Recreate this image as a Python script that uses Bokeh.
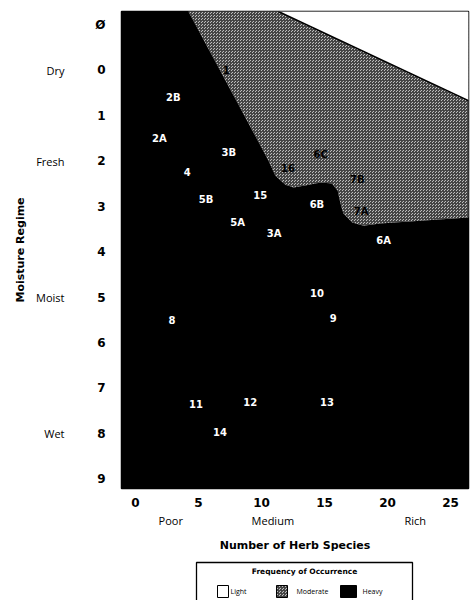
from bokeh.plotting import figure
from bokeh.layouts import column
from bokeh.models import Range1d, LinearAxis, FixedTicker, ColumnDataSource
from bokeh.core.properties import value
from bokeh.embed import file_html
from bokeh.resources import INLINE

# ---- data ---------------------------------------------------------------
# community codes placed by herb species count (x) and moisture regime (y)
site_codes = ["1", "2B", "2A", "3B", "4", "16", "6C", "7B", "5B", "15", "6B",
              "7A", "5A", "3A", "6A", "10", "8", "9", "11", "12", "13", "14"]
site_species = [7.2, 3.0, 1.9, 7.4, 4.1, 12.1, 14.7, 17.6, 5.6, 9.9, 14.4,
                17.9, 8.1, 11.0, 19.7, 14.4, 2.9, 15.7, 4.8, 9.1, 15.2, 6.7]
site_moisture = [0.0, 0.6, 1.5, 1.8, 2.25, 2.15, 1.85, 2.4, 2.85, 2.75, 2.95,
                 3.1, 3.35, 3.6, 3.75, 4.9, 5.5, 5.45, 7.35, 7.3, 7.3, 7.95]

# boundary between heavy and moderate occurrence
moderate_species = [4.2, 10.56, 11.1, 11.9, 12.55, 13.35, 14.7, 15.6, 16.05,
                    16.27, 16.5, 17.2, 18.1, 19.4, 26.43]
moderate_moisture = [-1.29, 1.99, 2.32, 2.52, 2.58, 2.54, 2.47, 2.49, 2.65,
                     2.93, 3.15, 3.35, 3.42, 3.37, 3.24]

# boundary between moderate and light occurrence
light_species = [11.35, 26.43]
light_moisture = [-1.29, 0.67]

x_tick_values = [0, 5, 10, 15, 20, 25]
y_tick_values = [-1, 0, 1, 2, 3, 4, 5, 6, 7, 8, 9]
y_tick_labels = ["Ø", "0", "1", "2", "3", "4", "5", "6", "7", "8", "9"]
richness_values = [2.8, 10.9, 22.2]
richness_labels = ["Poor", "Medium", "Rich"]
regime_values = [0, 2, 5, 8]
regime_labels = ["Dry", "Fresh", "Moist", "Wet"]
occurrence_classes = ["Light", "Moderate", "Heavy"]

X_MIN, X_MAX = -1.11, 26.43
Y_TOP, Y_BOTTOM = -1.29, 9.2

FONT = "DejaVu Sans"
MOD_FILL = "#bdbdbd"
MOD_HATCH = "#444444"

p = figure(width=470, height=558, output_backend="svg", toolbar_location=None,
           x_range=Range1d(X_MIN, X_MAX), y_range=Range1d(Y_BOTTOM, Y_TOP),
           min_border_left=121, min_border_right=2, min_border_top=11,
           min_border_bottom=70, background_fill_color="black",
           border_fill_color="white", outline_line_color="black",
           outline_line_width=1.5)
p.grid.visible = False

# heavy occurrence covers the whole field
p.quad(left=[X_MIN], right=[X_MAX], top=[Y_TOP], bottom=[Y_BOTTOM],
       fill_color="black", line_color=None)

# moderate occurrence: region above/right of its boundary
mx = moderate_species + [X_MAX, X_MAX]
my = moderate_moisture + [Y_TOP, Y_TOP]
p.patch(mx, my, fill_color=MOD_FILL, hatch_pattern="criss_cross",
        hatch_color=MOD_HATCH, hatch_scale=3, hatch_weight=1,
        line_color=None)

# light occurrence: upper right corner
lx = light_species + [X_MAX]
ly = light_moisture + [Y_TOP]
p.patch(lx, ly, fill_color="white", line_color=None)
p.line(light_species, light_moisture, line_color="black", line_width=1.5)


def inside(px, py, xs, ys):
    res = False
    n = len(xs)
    j = n - 1
    for i in range(n):
        if (ys[i] > py) != (ys[j] > py):
            xc = xs[i] + (py - ys[i]) * (xs[j] - xs[i]) / (ys[j] - ys[i])
            if px < xc:
                res = not res
        j = i
    return res


label_colors = ["black" if inside(x, y, mx, my) else "white"
                for x, y in zip(site_species, site_moisture)]
src = ColumnDataSource(dict(x=site_species, y=site_moisture, t=site_codes,
                            c=label_colors))
p.text(x="x", y="y", text="t", text_color="c", source=src,
       text_font=value(FONT), text_font_style="bold", text_font_size="10px",
       text_align="center", text_baseline="middle")

# ---- axes ----------------------------------------------------------------
def plain(ax):
    ax.axis_line_color = None
    ax.major_tick_line_color = None
    ax.minor_tick_line_color = None
    ax.major_tick_out = 0
    ax.major_tick_in = 0
    ax.major_label_text_color = "black"
    ax.axis_label_text_color = "black"


xa = p.xaxis[0]
xa.ticker = FixedTicker(ticks=x_tick_values)
plain(xa)
xa.major_label_text_font = FONT
xa.major_label_text_font_size = "12px"
xa.major_label_text_font_style = "bold"
xa.major_label_standoff = 9

ya = p.yaxis[0]
ya.ticker = FixedTicker(ticks=y_tick_values)
ya.major_label_overrides = {v: s for v, s in zip(y_tick_values, y_tick_labels)}
plain(ya)
ya.major_label_text_font = FONT
ya.major_label_text_font_size = "12px"
ya.major_label_text_font_style = "bold"
ya.major_label_standoff = 16

xa2 = LinearAxis(ticker=FixedTicker(ticks=richness_values),
                 major_label_overrides={v: s for v, s in zip(richness_values, richness_labels)},
                 axis_label="Number of Herb Species")
plain(xa2)
xa2.major_label_text_font = "Open Sans"
xa2.major_label_text_font_size = "11px"
xa2.major_label_standoff = 3
xa2.axis_label_text_font = FONT
xa2.axis_label_text_font_size = "11px"
xa2.axis_label_text_font_style = "bold"
xa2.axis_label_standoff = 8
p.add_layout(xa2, "below")

ya2 = LinearAxis(ticker=FixedTicker(ticks=regime_values),
                 major_label_overrides={v: s for v, s in zip(regime_values, regime_labels)},
                 axis_label="Moisture Regime")
plain(ya2)
ya2.major_label_text_font = "Open Sans"
ya2.major_label_text_font_size = "11px"
ya2.major_label_standoff = 28
ya2.axis_label_text_font = FONT
ya2.axis_label_text_font_size = "11px"
ya2.axis_label_text_font_style = "bold"
ya2.axis_label_standoff = 6
p.add_layout(ya2, "left")

# ---- legend panel (page pixel coordinates over the aligned frame) --------
lg = figure(width=470, height=42, output_backend="svg", toolbar_location=None,
            x_range=Range1d(121, 468), y_range=Range1d(600, 558),
            x_axis_location=None, y_axis_location=None,
            min_border_left=121, min_border_right=2, min_border_top=0,
            min_border_bottom=0,
            outline_line_color=None, background_fill_color="white",
            border_fill_color="white")
lg.grid.visible = False
lg.quad(left=[196], right=[412], top=[562], bottom=[610],
        fill_color=None, line_color="black", line_width=1.3)
lg.text(x=[304], y=[571], text=["Frequency of Occurrence"],
        text_font=value(FONT), text_font_style="bold", text_font_size="7.5px",
        text_align="center", text_baseline="middle")

sw_left = [217, 276, 340]
sw_width = [11, 11, 16]
sw_fill = ["white", MOD_FILL, "black"]
sw_text_gap = [2, 9, 6]
for cls, l, w, f, g in zip(occurrence_classes, sw_left, sw_width, sw_fill, sw_text_gap):
    kw = {}
    if cls == "Moderate":
        kw = dict(hatch_pattern="criss_cross", hatch_color=MOD_HATCH,
                  hatch_scale=3, hatch_weight=1)
    lg.quad(left=[l], right=[l + w], top=[585], bottom=[597], fill_color=f,
            line_color="black", line_width=1, **kw)
    lg.text(x=[l + w + g], y=[591], text=[cls],
            text_font=value("Open Sans"), text_font_size="7px",
            text_align="left", text_baseline="middle")

layout = column(p, lg, spacing=0)
open("out.html", "w").write(file_html(layout, INLINE))
